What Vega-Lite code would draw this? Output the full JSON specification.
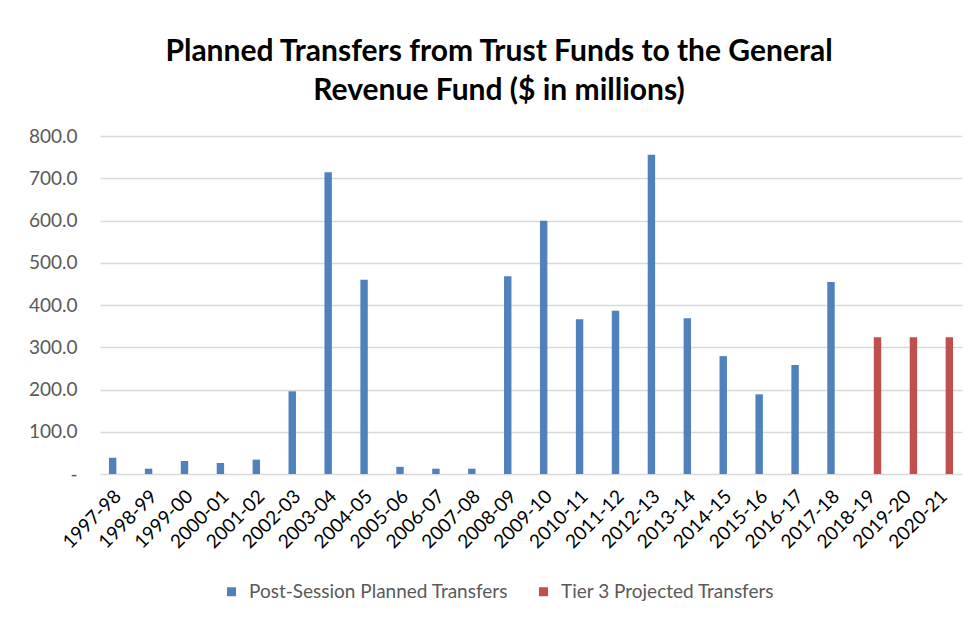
{
  "$schema": "https://vega.github.io/schema/vega-lite/v6.json",
  "autosize": {"type": "none"},
  "width": 862,
  "height": 338,
  "padding": {"left": 100, "top": 136, "right": 12, "bottom": 144},
  "background": "white",
  "title": {
    "text": ["Planned Transfers from Trust Funds to the General", "Revenue Fund ($ in millions)"],
    "font": "Lato",
    "fontSize": 30,
    "fontWeight": "bold",
    "color": "#000000",
    "lineHeight": 39,
    "anchor": "middle",
    "dx": -32,
    "offset": 21
  },
  "data": {
    "values": [
      {"year": "1997-98", "series": "Post-Session Planned Transfers", "value": 38.5},
      {"year": "1998-99", "series": "Post-Session Planned Transfers", "value": 12.6},
      {"year": "1999-00", "series": "Post-Session Planned Transfers", "value": 30.8},
      {"year": "2000-01", "series": "Post-Session Planned Transfers", "value": 26.0},
      {"year": "2001-02", "series": "Post-Session Planned Transfers", "value": 34.0},
      {"year": "2002-03", "series": "Post-Session Planned Transfers", "value": 195.7},
      {"year": "2003-04", "series": "Post-Session Planned Transfers", "value": 714.0},
      {"year": "2004-05", "series": "Post-Session Planned Transfers", "value": 460.0},
      {"year": "2005-06", "series": "Post-Session Planned Transfers", "value": 17.0},
      {"year": "2006-07", "series": "Post-Session Planned Transfers", "value": 12.6},
      {"year": "2007-08", "series": "Post-Session Planned Transfers", "value": 12.6},
      {"year": "2008-09", "series": "Post-Session Planned Transfers", "value": 468.0},
      {"year": "2009-10", "series": "Post-Session Planned Transfers", "value": 599.6},
      {"year": "2010-11", "series": "Post-Session Planned Transfers", "value": 366.0},
      {"year": "2011-12", "series": "Post-Session Planned Transfers", "value": 386.6},
      {"year": "2012-13", "series": "Post-Session Planned Transfers", "value": 755.8},
      {"year": "2013-14", "series": "Post-Session Planned Transfers", "value": 368.4},
      {"year": "2014-15", "series": "Post-Session Planned Transfers", "value": 279.0},
      {"year": "2015-16", "series": "Post-Session Planned Transfers", "value": 188.6},
      {"year": "2016-17", "series": "Post-Session Planned Transfers", "value": 258.0},
      {"year": "2017-18", "series": "Post-Session Planned Transfers", "value": 454.4},
      {"year": "2018-19", "series": "Tier 3 Projected Transfers", "value": 323.5},
      {"year": "2019-20", "series": "Tier 3 Projected Transfers", "value": 323.5},
      {"year": "2020-21", "series": "Tier 3 Projected Transfers", "value": 323.5}
    ]
  },
  "mark": {"type": "bar"},
  "encoding": {
    "x": {
      "field": "year",
      "type": "nominal",
      "sort": null,
      "title": null,
      "scale": {"paddingInner": 0.41, "paddingOuter": 0.205},
      "axis": {
        "labelAngle": -45,
        "labelAlign": "right",
        "labelBaseline": "middle",
        "labelFont": "Lato",
        "labelFontSize": 19,
        "labelColor": "#000000",
        "labelPadding": 19,
        "domain": false,
        "ticks": false,
        "grid": false
      }
    },
    "xOffset": {
      "field": "series",
      "type": "nominal",
      "scale": {"paddingInner": 0.3, "paddingOuter": 0.15}
    },
    "y": {
      "field": "value",
      "type": "quantitative",
      "title": null,
      "scale": {"domain": [0, 800], "nice": false},
      "axis": {
        "values": [0, 100, 200, 300, 400, 500, 600, 700, 800],
        "labelExpr": "datum.value === 0 ? '-' : format(datum.value, '.1f')",
        "labelFont": "Lato",
        "labelFontSize": 19,
        "labelColor": "#595959",
        "labelPadding": 23,
        "domain": false,
        "ticks": false,
        "grid": true,
        "gridColor": "#d9d9d9",
        "gridWidth": 1.5
      }
    },
    "color": {
      "field": "series",
      "type": "nominal",
      "scale": {
        "domain": ["Post-Session Planned Transfers", "Tier 3 Projected Transfers"],
        "range": ["#4f81bd", "#c0504d"]
      },
      "legend": {
        "title": null,
        "orient": "none",
        "direction": "horizontal",
        "legendX": 122,
        "legendY": 446,
        "symbolType": "square",
        "symbolSize": 81,
        "symbolStrokeWidth": 0,
        "labelFont": "Lato",
        "labelFontSize": 19,
        "labelColor": "#595959",
        "labelOffset": 8,
        "labelLimit": 0,
        "columnPadding": 26
      }
    }
  },
  "config": {
    "view": {"stroke": null}
  }
}
